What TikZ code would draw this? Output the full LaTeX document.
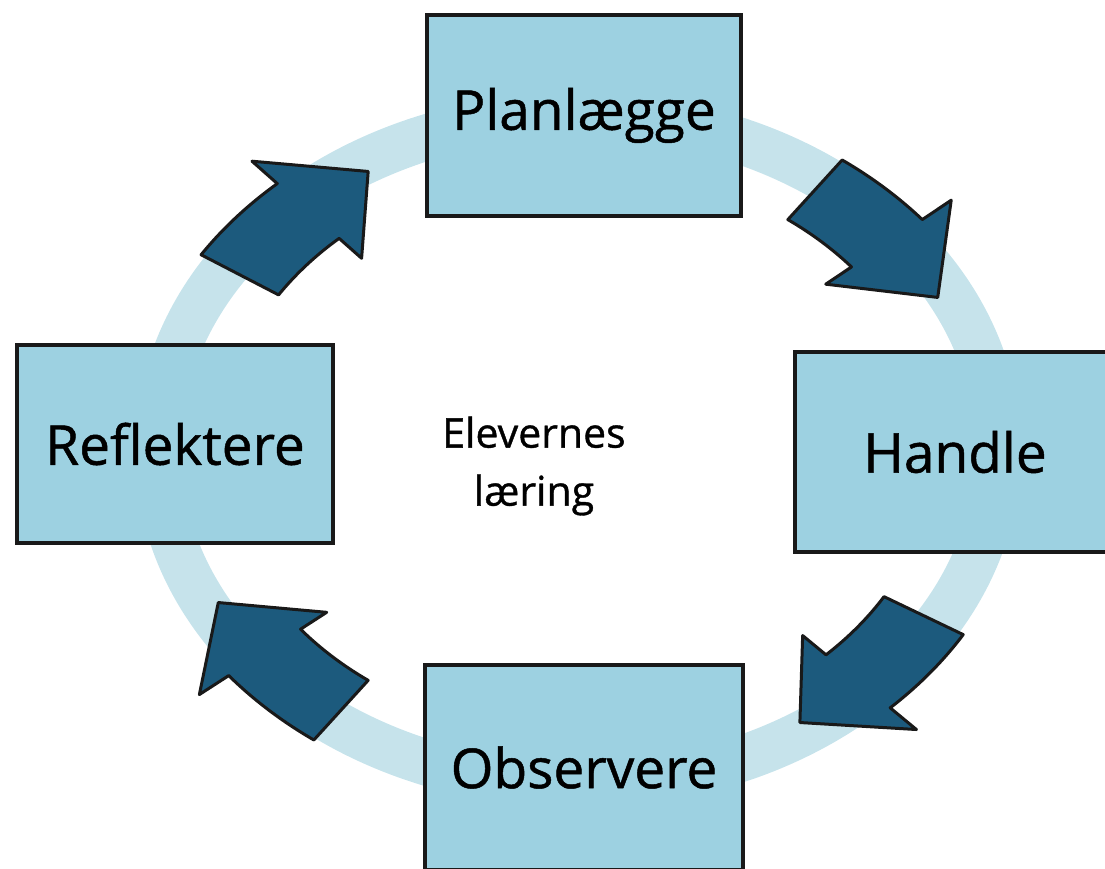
\documentclass[tikz,border=0pt]{standalone}
\usepackage{fontspec}
\setmainfont{Open Sans}
\newfontfamily\handfont[FakeBold=0.9]{Open Sans}
\usepackage{xcolor}
\usepackage{tikz}
\usetikzlibrary{positioning,calc}
\definecolor{ringblue}{HTML}{C6E3EB}
\definecolor{boxblue}{HTML}{9DD1E1}
\definecolor{arrowblue}{HTML}{1C5A7D}
\tikzset{
    stage/.style={draw=black!90, line width=3.5pt, fill=boxblue, rectangle, minimum width=316pt, minimum height=200pt, text centered, font=\handfont\fontsize{55}{62}\selectfont},
    ring/.style={draw=ringblue, line width=46pt},
    cyclearrow/.style={draw=black!90, line width=3pt, fill=arrowblue, line join=round},
    hub/.style={align=center, font=\handfont\fontsize{41}{58}\selectfont}
}
\newcommand{\rx}{420}
\newcommand{\ry}{335}

\begin{document}
\begin{tikzpicture}[x=1pt, y=1pt]
    \useasboundingbox (0,0) rectangle (1105,869);
    \coordinate (mid) at (578,419);

    % ring behind everything
    \draw[ring] (mid) ellipse [x radius=\rx, y radius=\ry];

    % curved arrows: tail / head / tip angles
    \begin{scope}[shift={(mid)}]
    \foreach \ta/\ha/\pa in {147/132/121, 54/40/28, -31/-46/-57, -126/-141/-152} {
        \draw[cyclearrow] (\ta:{0.85*\rx} and {0.85*\ry}) -- (\ta:{1.07*\rx} and {1.07*\ry})
            arc[start angle=\ta, end angle=\ha, x radius={1.07*\rx}, y radius={1.07*\ry}]
            -- (\ha:{1.16*\rx} and {1.16*\ry}) -- (\pa:{0.97*\rx} and {0.97*\ry})
            -- (\ha:{0.77*\rx} and {0.77*\ry}) -- (\ha:{0.85*\rx} and {0.85*\ry})
            arc[start angle=\ha, end angle=\ta, x radius={0.85*\rx}, y radius={0.85*\ry}] -- cycle;
    }
    \end{scope}

    \node[stage, minimum width=314pt, minimum height=201pt] (plan) at (584,753.5) {Planlægge};
    \node[stage, minimum width=320pt] (handle) at (955,417) {Handle};
    \node[stage, minimum width=318pt, minimum height=205pt] (observe) at (584,101.5) {Observere};
    \node[stage, minimum height=198pt] (reflect) at (175,425) {Reflektere};

    \node[hub] (learning) at (534,403) {Elevernes\\læring};
\end{tikzpicture}
\end{document}
